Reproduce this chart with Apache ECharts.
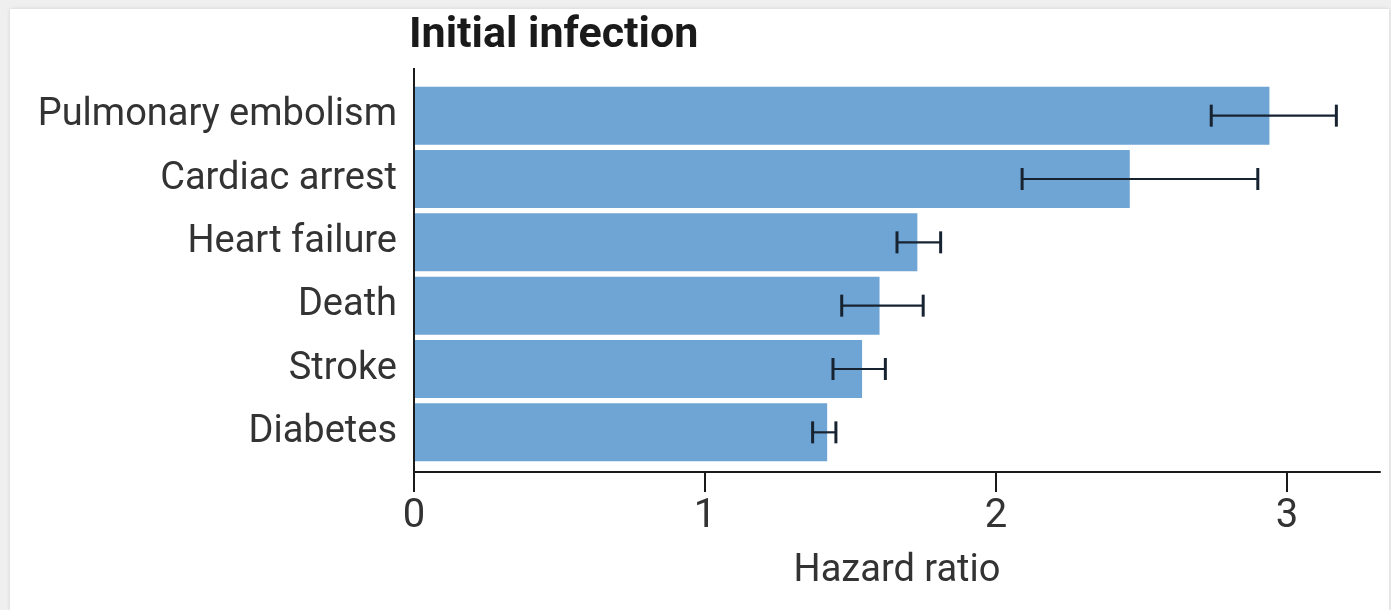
<!DOCTYPE html>
<html>
<head>
<meta charset="utf-8">
<script src="https://cdn.jsdelivr.net/npm/echarts@6/dist/echarts.min.js"></script>
<style>
  html, body { margin: 0; padding: 0; background: #efefef; }
  #card { position: absolute; left: 10px; top: 9px; width: 1379px; height: 601px; background: #fff; box-shadow: 0 0 4px rgba(0,0,0,0.12); }
  #chart { position: absolute; left: 0; top: 0; width: 1391px; height: 610px; }
</style>
</head>
<body>
<div id="card"></div>
<div id="chart"></div>
<script>
const categories = ['Pulmonary embolism', 'Cardiac arrest', 'Heart failure', 'Death', 'Stroke', 'Diabetes'];
const hazardRatio = [2.94, 2.46, 1.73, 1.60, 1.54, 1.42];
const ciLow = [2.74, 2.09, 1.66, 1.47, 1.44, 1.37];
const ciHigh = [3.17, 2.90, 1.81, 1.75, 1.62, 1.45];
const xTicks = [0, 1, 2, 3];

const FONT = "'Liberation Sans Narrow', Roboto, 'Noto Sans', sans-serif";
const chart = echarts.init(document.getElementById('chart'));

const errorData = categories.map((c, i) => [i, ciLow[i], ciHigh[i]]);

chart.setOption({
  backgroundColor: 'transparent',
  animation: false,
  title: {
    text: 'Initial infection',
    left: 404, top: 10,
    textStyle: { fontFamily: FONT, fontWeight: 'bold', fontSize: 43, color: '#1a1a1a' }
  },
  grid: { left: 414, right: 11, top: 84, bottom: 146, containLabel: false },
  xAxis: {
    type: 'value', min: 0, max: 3.32, interval: 1, offset: 8,
    axisLine: { show: true, lineStyle: { color: '#1a1a1a', width: 2 } },
    axisTick: { show: true, length: 20, customValues: xTicks, lineStyle: { color: '#1a1a1a', width: 2 } },
    axisLabel: {
      fontFamily: FONT, fontSize: 40, color: '#333', margin: 25,
      customValues: xTicks
    },
    splitLine: { show: false },
    name: 'Hazard ratio', nameLocation: 'middle', nameGap: 80,
    nameTextStyle: { fontFamily: FONT, fontSize: 38, color: '#333' }
  },
  yAxis: {
    type: 'category', data: categories, inverse: true,
    axisLine: { show: false },
    axisTick: { show: false },
    axisLabel: { fontFamily: FONT, fontSize: 38, color: '#333', margin: 17 }
  },
  graphic: [{
    type: 'line', z: 10,
    shape: { x1: 414, y1: 68, x2: 414, y2: 472 },
    style: { stroke: '#1a1a1a', lineWidth: 2 }
  }],
  series: [
    {
      type: 'bar', data: hazardRatio, barWidth: 58,
      itemStyle: { color: '#6fa5d4' }
    },
    {
      type: 'custom', data: errorData, z: 5,
      renderItem: (params, api) => {
        const y = api.value(0);
        const lo = api.coord([api.value(1), y]);
        const hi = api.coord([api.value(2), y]);
        const h = 11;
        const st = { stroke: '#172330', lineWidth: 2.2 };
        const cap = { stroke: '#172330', lineWidth: 3 };
        return {
          type: 'group',
          children: [
            { type: 'line', shape: { x1: lo[0], y1: lo[1], x2: hi[0], y2: hi[1] }, style: st },
            { type: 'line', shape: { x1: lo[0], y1: lo[1] - h, x2: lo[0], y2: lo[1] + h }, style: cap },
            { type: 'line', shape: { x1: hi[0], y1: hi[1] - h, x2: hi[0], y2: hi[1] + h }, style: cap }
          ]
        };
      }
    }
  ]
});
</script>
</body>
</html>
